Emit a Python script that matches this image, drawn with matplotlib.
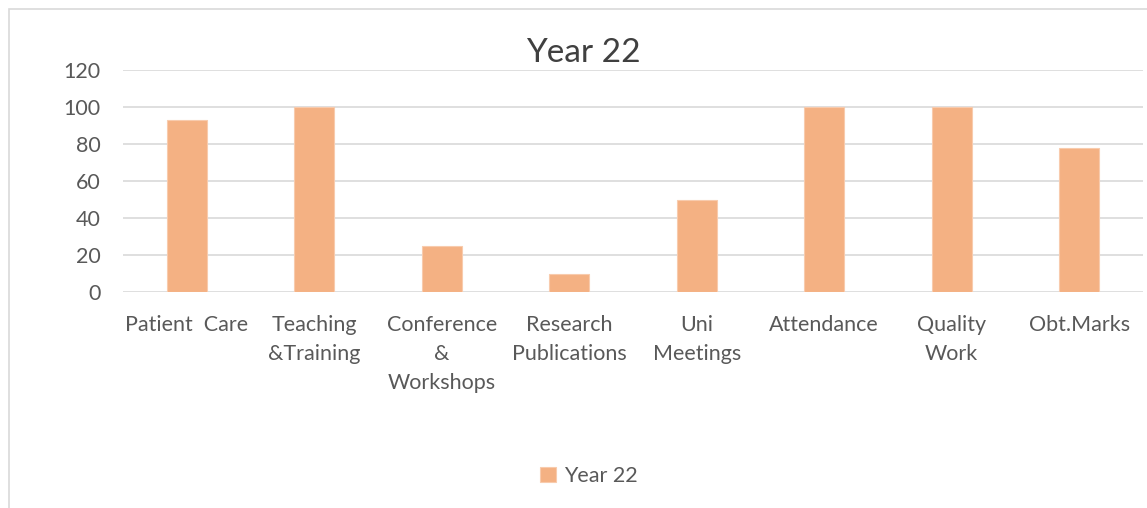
import matplotlib
matplotlib.use("Agg")
import matplotlib.pyplot as plt
from matplotlib.patches import Rectangle

categories = ["Patient  Care", "Teaching\n&Training", "Conference\n&\nWorkshops",
              "Research\nPublications", "Uni\nMeetings", "Attendance", "Quality\nWork", "Obt.Marks"]
values = [93, 100, 25, 10, 50, 100, 100, 78]
series_name = "Year 22"
yticks = [0, 20, 40, 60, 80, 100, 120]

plt.rcParams['font.family'] = ['Lato', 'DejaVu Sans']
bar_color = "#F4B183"
text_color = "#595959"

fig = plt.figure(figsize=(11.47, 5.08), dpi=100)
fig.patches.append(Rectangle((9/1147, -0.05), 1.0, 1.05 - 9/508, transform=fig.transFigure,
                             fill=False, edgecolor="#D9D9D9", linewidth=1.2))
ax = fig.add_axes([123/1147, 1 - 292/508, (1143-123)/1147, (292-70)/508])
x = range(len(categories))
ax.bar(x, values, width=0.31, color=bar_color, edgecolor="#F8CBAD", linewidth=0.8, label=series_name, zorder=3)
ax.set_xlim(-0.5, len(categories) - 0.5)
ax.set_ylim(0, 120)
ax.set_yticks(yticks)
ax.yaxis.grid(True, color="#D9D9D9", linewidth=1.2, zorder=0)
for s in ax.spines.values():
    s.set_visible(False)
ax.tick_params(axis='both', length=0, labelsize=15.5, colors=text_color)
ax.tick_params(axis='y', pad=16)
ax.tick_params(axis='x', pad=16.5)
ax.set_xticks(list(x))
ax.set_xticklabels(categories, linespacing=1.55)
fig.text(583/1147, 1 - 53/508, "Year 22", ha='center', va='center', fontsize=24, color="#404040")
fig.legend(loc='center', bbox_to_anchor=(589/1147, 1 - 476/508), frameon=False, fontsize=15.5,
           handlelength=0.75, handleheight=0.75, handletextpad=0.35, labelcolor=text_color)
fig.savefig("out.png", dpi=100)
